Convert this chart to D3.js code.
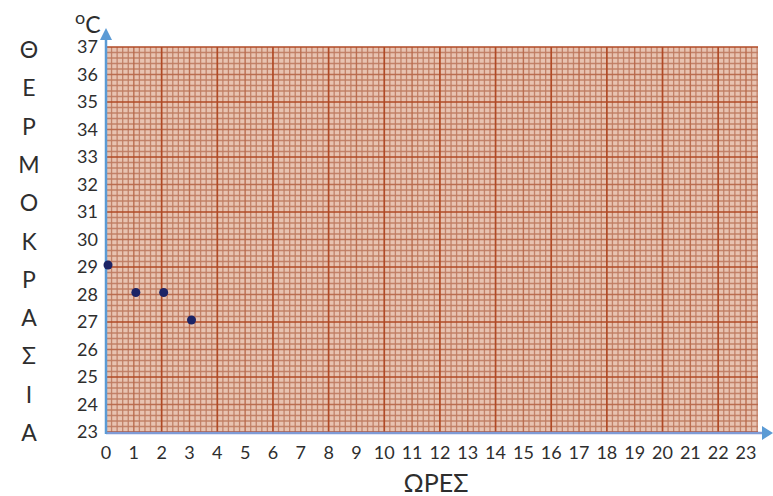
<!DOCTYPE html>
<html><head><meta charset="utf-8">
<script src="https://cdn.jsdelivr.net/npm/d3@7"></script>
<style>body{margin:0;background:#fff}svg{display:block}text{font-family:Lato,"Open Sans",sans-serif;fill:#2e2e2e}</style>
</head><body>
<svg id="c" width="773" height="496"></svg>
<script>
const hours = [0, 1, 2, 3];
const temps = [29, 28, 28, 27];
const xTicks = d3.range(0, 24);
const yTicks = d3.range(23, 38);
const yTitle = ["Θ","Ε","Ρ","Μ","Ο","Κ","Ρ","Α","Σ","Ι","Α"];
const xTitle = "ΩΡΕΣ";
const unitLabel = "C";

const svg = d3.select("#c");
const x = d3.scaleLinear().domain([0, 23]).range([106, 746]);
const y = d3.scaleLinear().domain([23, 37]).range([432, 47]);
const xMax = x.invert(758);

// paper
svg.append("rect").attr("x", x(0)).attr("y", y(37)).attr("width", x(xMax) - x(0)).attr("height", y(23) - y(37)).attr("fill", "#e8c3b1");
const g = svg.append("g");
const fineX = d3.range(0, xMax, 0.2), fineY = d3.range(23, 37.001, 0.2);
function cls(v){ const r = Math.round(v*5); if (r % 10 === 0) return 2; if (r % 5 === 0) return 1; return 0; }
const styles = [{c:"#bf7c62", w:1.3, o:0.9},{c:"#b96a4c", w:1.4, o:0.95},{c:"#b04a26", w:1.7, o:1}];
[0,1,2].forEach(level => {
  g.selectAll(null).data(fineX.filter(v => cls(v) === level)).enter().append("line")
    .attr("x1", d => x(d)).attr("x2", d => x(d)).attr("y1", y(37)).attr("y2", y(23))
    .attr("stroke", styles[level].c).attr("stroke-width", styles[level].w).attr("opacity", styles[level].o);
  g.selectAll(null).data(fineY.filter(v => cls(v - 23) === level)).enter().append("line")
    .attr("x1", x(0)).attr("x2", x(xMax)).attr("y1", d => y(d)).attr("y2", d => y(d))
    .attr("stroke", styles[level].c).attr("stroke-width", styles[level].w).attr("opacity", styles[level].o);
});

// axes
const ax = "#5b9bd5";
svg.append("line").attr("x1", x(0)).attr("x2", 762).attr("y1", y(23)+1).attr("y2", y(23)+1).attr("stroke", "#7f9bd6").attr("stroke-width", 2.5);
svg.append("path").attr("d", `M762,${y(23)-6} L773,${y(23)+1} L762,${y(23)+8} Z`).attr("fill", ax);
svg.append("line").attr("x1", x(0)).attr("x2", x(0)).attr("y1", y(23)+2).attr("y2", 38).attr("stroke", ax).attr("stroke-width", 2.5);
svg.append("path").attr("d", `M${x(0)-6},40 L${x(0)},28 L${x(0)+6},40 Z`).attr("fill", ax);

// tick labels
svg.selectAll(null).data(xTicks).enter().append("text")
  .attr("x", d => x(d)).attr("y", 459).attr("text-anchor", "middle").attr("font-size", 18).text(d => d);
svg.selectAll(null).data(yTicks).enter().append("text")
  .attr("x", 98).attr("y", d => y(d) + 6).attr("text-anchor", "end").attr("font-size", 18).text(d => d);

// titles
svg.selectAll(null).data(yTitle).enter().append("text")
  .attr("x", 29).attr("y", (d, i) => 58 + i * 38.3).attr("text-anchor", "middle").attr("font-size", 23).text(d => d);
svg.append("text").attr("x", 436).attr("y", 492).attr("text-anchor", "middle").attr("font-size", 25).text(xTitle);
const u = svg.append("text").attr("x", 75).attr("y", 33).attr("font-size", 23);
u.append("tspan").attr("font-size", 18).attr("dy", -9).text("o");
u.append("tspan").attr("dy", 9).text(unitLabel);

// points
svg.selectAll(null).data(hours.map((h, i) => [h, temps[i]])).enter().append("circle")
  .attr("cx", d => x(d[0]) + 2).attr("cy", d => y(d[1]) - 2).attr("r", 4.5).attr("fill", "#1c2466");
</script>
</body></html>
